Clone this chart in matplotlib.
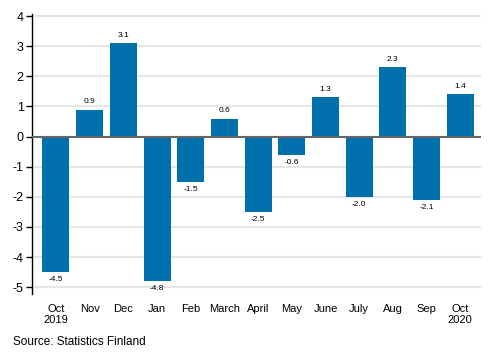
import matplotlib.pyplot as plt
import numpy as np

months = ["Oct\n2019", "Nov", "Dec", "Jan", "Feb", "March", "April",
          "May", "June", "July", "Aug", "Sep", "Oct\n2020"]
values = [-4.5, 0.9, 3.1, -4.8, -1.5, 0.6, -2.5, -0.6, 1.3, -2.0, 2.3, -2.1, 1.4]

plt.rcParams['font.family'] = ['Liberation Sans', 'DejaVu Sans']
plt.rcParams['axes.unicode_minus'] = False

fig = plt.figure(figsize=(4.93, 3.6), dpi=100)
ax = fig.add_axes([0.065, 0.183, 0.911, 0.778])

x = np.arange(len(values))
ax.bar(x, values, width=0.8, color="#0070ad", zorder=3)

for xi, v in zip(x, values):
    if v >= 0:
        ax.annotate(f"{v:.1f}", (xi, v), xytext=(0, 3), textcoords="offset points",
                    ha="center", va="bottom", fontsize=6)
    else:
        ax.annotate(f"{v:.1f}", (xi, v), xytext=(0, -3), textcoords="offset points",
                    ha="center", va="top", fontsize=6)

ax.set_xlim(-0.71, 12.62)
ax.set_ylim(-5.23, 4.07)
ax.set_yticks(range(-5, 5))
ax.yaxis.grid(True, color="#e6e6e6", linewidth=1.5, zorder=0)
ax.axhline(0, color="#666666", linewidth=1.5, zorder=4)

for s in ["top", "right", "bottom"]:
    ax.spines[s].set_visible(False)
ax.spines["left"].set_color("black")
ax.spines["left"].set_linewidth(1)

ax.set_xticks(x)
ax.set_xticklabels(months, fontsize=8)
ax.tick_params(axis="x", length=0, pad=7)
ax.tick_params(axis="y", length=4, width=1, labelsize=9, pad=2)

fig.text(0.026, 0.05, "Source: Statistics Finland", fontsize=8.5, ha="left", va="center")

fig.savefig("out.png", dpi=100)
